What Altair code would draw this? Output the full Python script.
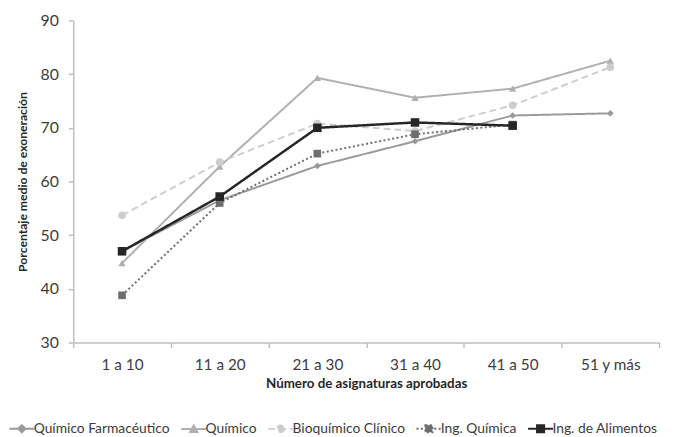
import altair as alt
import pandas as pd

categorias = ["1 a 10", "11 a 20", "21 a 30", "31 a 40", "41 a 50", "51 y más"]
series = ["Químico Farmacéutico", "Químico", "Bioquímico Clínico", "Ing. Química", "Ing. de Alimentos"]

farmaceutico = [47.0, 56.5, 62.9, 67.5, 72.3, 72.7]
quimico = [44.8, 62.8, 79.3, 75.6, 77.3, 82.5]
bioquimico = [53.7, 63.6, 70.8, 69.4, 74.2, 81.3]
ing_quimica = [38.8, 56.0, 65.2, 68.8, 70.6, None]
ing_alimentos = [47.0, 57.2, 70.0, 71.0, 70.4, None]

valores = [farmaceutico, quimico, bioquimico, ing_quimica, ing_alimentos]

colores = ["#9a9a9a", "#b0b0b0", "#cdcdcd", "#6e6e6e", "#262626"]
dashes = [[1, 0], [1, 0], [7, 4], [2, 2.5], [1, 0]]
anchos = [2, 2, 2, 2, 2.5]
formas = ["diamond", "triangle-up", "circle", "square", "square"]
tamanos = [45, 55, 60, 60, 75]
formas_leyenda = [
    "M-2.1,0H2.1M0,-0.6L0.6,0L0,0.6L-0.6,0Z",
    "M-2.1,0H2.1M0,-0.6L0.6,0.5L-0.6,0.5Z",
    "M-2.1,0H2.1M0.55,0A0.55,0.55,0,1,1,-0.55,0A0.55,0.55,0,1,1,0.55,0Z",
    "M-2.1,0H2.1M-0.6,-0.6H0.6V0.6H-0.6Z",
    "M-2.1,0H2.1M-0.6,-0.6H0.6V0.6H-0.6Z",
]

filas = []
for s, vals in zip(series, valores):
    for c, v in zip(categorias, vals):
        if v is not None:
            filas.append({"Serie": s, "Asignaturas": c, "Valor": v})
df = pd.DataFrame(filas)

FONT = "Lato"
AXIS_COLOR = "#bfbfbf"
TEXT_COLOR = "#3c3c3c"

x_enc = alt.X(
    "Asignaturas:N",
    sort=categorias,
    scale=alt.Scale(type="band", domain=categorias, paddingInner=0, paddingOuter=0),
    bandPosition=0.5,
    axis=alt.Axis(
        title="Número de asignaturas aprobadas",
        labelAngle=0,
        labelFontSize=15.5,
        labelColor=TEXT_COLOR,
        labelPadding=10,
        tickBand="extent",
        tickSize=5,
        tickColor=AXIS_COLOR,
        tickWidth=1.5,
        domainColor=AXIS_COLOR,
        domainWidth=1.5,
        titleFontSize=13.5,
        titleFontWeight="bold",
        titleColor="#262626",
        titlePadding=4,
        grid=False,
    ),
)
y_enc = alt.Y(
    "Valor:Q",
    scale=alt.Scale(domain=[30, 90], nice=False, zero=False),
    axis=alt.Axis(
        title="Porcentaje medio de exoneración",
        values=[30, 40, 50, 60, 70, 80, 90],
        labelFontSize=16,
        labelColor=TEXT_COLOR,
        labelPadding=10,
        tickSize=5,
        tickColor=AXIS_COLOR,
        tickWidth=1.5,
        domainColor=AXIS_COLOR,
        domainWidth=1.5,
        titleFontSize=12.3,
        titleFontWeight="bold",
        titleColor="#262626",
        titlePadding=11,
        grid=False,
    ),
)

capas = []
for s, col, dash, ancho, forma, tam in zip(series, colores, dashes, anchos, formas, tamanos):
    base = alt.Chart(df).transform_filter(alt.datum.Serie == s).transform_calculate(
        orden="indexof(" + str(categorias) + ", datum.Asignaturas)"
    )
    linea = base.mark_line(color=col, strokeDash=dash, strokeWidth=ancho).encode(
        x=x_enc, y=y_enc, order=alt.Order("orden:Q")
    )
    puntos = base.mark_point(filled=True, opacity=1, color=col, shape=forma, size=tam).encode(
        x=x_enc, y=y_enc
    )
    capas += [linea, puntos]

leg = alt.Legend(
    orient="none", direction="horizontal", legendX=-59, legendY=406,
    symbolSize=144, symbolStrokeWidth=2, labelFontSize=14, labelColor=TEXT_COLOR,
    labelOffset=5, columnPadding=7, labelFont=FONT, symbolOpacity=1, title=None,
)

leyenda = alt.Chart(df).mark_point(filled=True, opacity=1, strokeWidth=2).encode(
    x=x_enc,
    y=y_enc,
    fill=alt.Fill("Serie:N", scale=alt.Scale(domain=series, range=colores), title=None, legend=leg),
    stroke=alt.Stroke("Serie:N", scale=alt.Scale(domain=series, range=colores), title=None, legend=leg),
    shape=alt.Shape("Serie:N", scale=alt.Scale(domain=series, range=formas_leyenda), title=None, legend=leg),
    strokeDash=alt.StrokeDash("Serie:N", scale=alt.Scale(domain=series, range=dashes), title=None, legend=leg),
).transform_filter("false")

chart = alt.layer(*capas, leyenda).properties(
    width=593,
    height=326,
    padding={"left": 66, "top": 10, "right": 12, "bottom": 95},
    autosize=alt.AutoSizeParams(type="none"),
).configure(
    font=FONT,
).configure_view(stroke=None)

chart.save("out.html", embed_options={"renderer": "svg", "actions": False})
